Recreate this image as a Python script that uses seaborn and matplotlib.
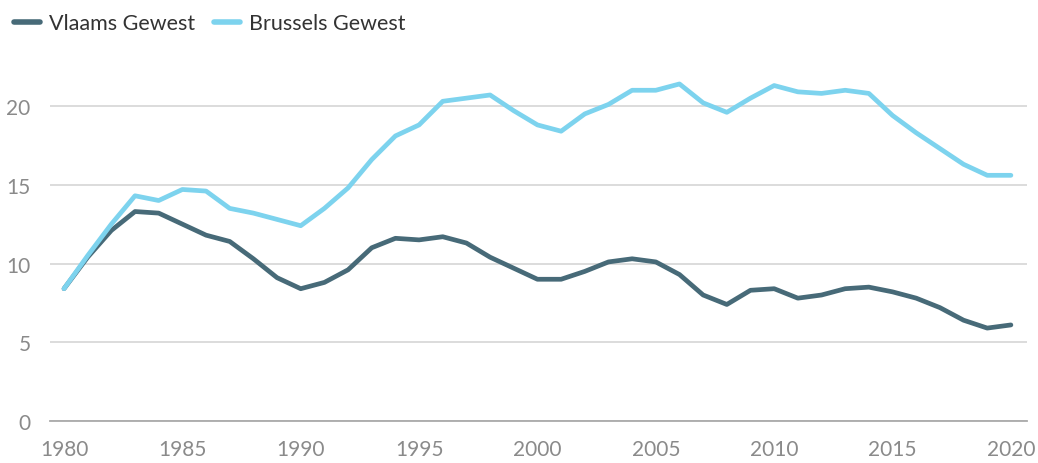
import numpy as np
import pandas as pd
import matplotlib
matplotlib.use('Agg')
import matplotlib.pyplot as plt
import seaborn as sns

years = list(range(1980, 2021))
vlaams = [8.4, 10.4, 12.1, 13.3, 13.2, 12.5, 11.8, 11.4, 10.3, 9.1,
          8.4, 8.8, 9.6, 11.0, 11.6, 11.5, 11.7, 11.3, 10.4, 9.7,
          9.0, 9.0, 9.5, 10.1, 10.3, 10.1, 9.3, 8.0, 7.4, 8.3,
          8.4, 7.8, 8.0, 8.4, 8.5, 8.2, 7.8, 7.2, 6.4, 5.9, 6.1]
brussel = [8.4, 10.5, 12.5, 14.3, 14.0, 14.7, 14.6, 13.5, 13.2, 12.8,
           12.4, 13.5, 14.8, 16.6, 18.1, 18.8, 20.3, 20.5, 20.7, 19.7,
           18.8, 18.4, 19.5, 20.1, 21.0, 21.0, 21.4, 20.2, 19.6, 20.5,
           21.3, 20.9, 20.8, 21.0, 20.8, 19.4, 18.3, 17.3, 16.3, 15.6, 15.6]
reeksen = ['Vlaams Gewest', 'Brussels Gewest']
kleuren = {'Vlaams Gewest': '#476a78', 'Brussels Gewest': '#7dd3ee'}

df = pd.DataFrame({'jaar': years * 2,
                   'waarde': vlaams + brussel,
                   'gewest': [reeksen[0]] * len(years) + [reeksen[1]] * len(years)})

sns.set_style('white')
plt.rcParams['font.family'] = ['Lato', 'DejaVu Sans']

fig = plt.figure(figsize=(10.38, 4.64), dpi=100)
ax = fig.add_axes([0.0482, 0.0905, 0.9412, 0.7807])

sns.lineplot(data=df, x='jaar', y='waarde', hue='gewest', palette=kleuren,
             hue_order=reeksen, linewidth=3.4, ax=ax, legend=True)

ax.set_xlim(1979.41, 2020.68)
ax.set_ylim(0, 23)
ax.set_xticks(range(1980, 2021, 5))
ax.set_yticks([0, 5, 10, 15, 20])
ax.set_xlabel('')
ax.set_ylabel('')
ax.yaxis.grid(True, color='#d9d9d9', linewidth=1.3)
ax.set_axisbelow(True)
for s in ['top', 'right', 'left']:
    ax.spines[s].set_visible(False)
ax.spines['bottom'].set_color('#aaaaaa')
ax.spines['bottom'].set_linewidth(1.3)
ax.tick_params(axis='x', colors='#aaaaaa', length=8, width=1, labelcolor='#8a8a8a',
               labelsize=15, pad=5)
ax.tick_params(axis='y', length=0, labelcolor='#8a8a8a', labelsize=15, pad=14)

handles, labels = ax.get_legend_handles_labels()
for h in handles:
    h.set_linewidth(4)
    h.set_solid_capstyle('round')
ax.legend(handles, labels, loc='upper left', bbox_to_anchor=(-0.037, 1.125), ncol=2,
          frameon=False, fontsize=15.5, handlelength=1.2, handletextpad=0.45,
          columnspacing=0.85, labelcolor='#333333', borderpad=0, borderaxespad=0)

fig.savefig('out.png', dpi=100)
